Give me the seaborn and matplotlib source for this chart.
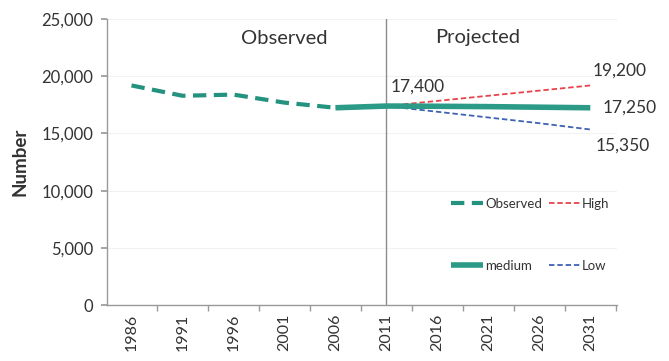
import matplotlib
matplotlib.use("Agg")
import matplotlib.pyplot as plt
import seaborn as sns
import pandas as pd
from matplotlib.ticker import FuncFormatter, FixedLocator

# Census years shown on the axis
years = [1986, 1991, 1996, 2001, 2006, 2011, 2016, 2021, 2026, 2031]

# Series values
observed_years = [1986, 1991, 1996, 2001, 2006]
observed_vals = [19200, 18300, 18400, 17700, 17250]

medium_years = [2006, 2011, 2016, 2021, 2026, 2031]
medium_vals = [17250, 17400, 17380, 17350, 17300, 17250]

proj_years = [2011, 2016, 2021, 2026, 2031]
high_vals = [17400, 17850, 18300, 18750, 19200]
low_vals = [17400, 16900, 16400, 15900, 15350]

sns.set_theme(style="white")
plt.rcParams["font.family"] = ["Lato", "DejaVu Sans"]

TEAL_OBS = "#23927f"
TEAL_MED = "#2b9a86"
RED = "#e8424a"
BLUE = "#3d63b3"
TXT = "#333333"

fig = plt.figure(figsize=(6.69, 3.61), dpi=100)
ax = fig.add_axes([0.160, 0.155, 0.762, 0.792])

obs_df = pd.DataFrame({"year": observed_years, "value": observed_vals})
med_df = pd.DataFrame({"year": medium_years, "value": medium_vals})
high_df = pd.DataFrame({"year": proj_years, "value": high_vals})
low_df = pd.DataFrame({"year": proj_years, "value": low_vals})

sns.lineplot(data=obs_df, x="year", y="value", ax=ax, color=TEAL_OBS,
             linewidth=3.0, linestyle=(0, (3.2, 1.8)), label="Observed",
             dash_capstyle="butt")
sns.lineplot(data=high_df, x="year", y="value", ax=ax, color=RED,
             linewidth=1.3, linestyle=(0, (3.0, 1.6)), label="High",
             dash_capstyle="butt")
sns.lineplot(data=low_df, x="year", y="value", ax=ax, color=BLUE,
             linewidth=1.3, linestyle=(0, (3.0, 1.6)), label="Low",
             dash_capstyle="butt")
sns.lineplot(data=med_df, x="year", y="value", ax=ax, color=TEAL_MED,
             linewidth=4.0, label="medium", solid_capstyle="butt")

# Divider between observed and projected periods
ax.axvline(2011, color="#8c8c8c", linewidth=1.0, ymin=0, ymax=1, zorder=1)

ax.set_xlim(1983.6, 2033.6)
ax.set_ylim(0, 25000)
ax.set_yticks([0, 5000, 10000, 15000, 20000, 25000])
ax.yaxis.set_major_formatter(FuncFormatter(lambda v, p: f"{int(v):,}"))
ax.set_xticks(years)
ax.set_xticklabels([str(y) for y in years], rotation=90)
ax.xaxis.set_minor_locator(FixedLocator([y - 2.5 for y in years] + [2033.5]))
ax.tick_params(axis="x", which="major", length=0, labelsize=11.5,
               labelcolor=TXT, pad=6)
ax.tick_params(axis="x", which="minor", length=4, color="#9a9a9a",
               direction="out", bottom=True)
ax.tick_params(axis="y", which="major", length=4, color="#9a9a9a",
               labelsize=12, labelcolor=TXT, pad=6, left=True)

ax.grid(axis="y", color="#f2f2f2", linewidth=0.8)
ax.set_axisbelow(True)
for side in ("top", "right"):
    ax.spines[side].set_visible(False)
for side in ("left", "bottom"):
    ax.spines[side].set_color("#9a9a9a")
    ax.spines[side].set_linewidth(1.0)

ax.set_xlabel("")
ax.set_ylabel("Number", fontsize=13.5, fontweight="bold", color=TXT, labelpad=9)

# Period headings
ax.text(2001, 23300, "Observed", ha="center", va="center", fontsize=14.5, color=TXT)
ax.text(2019.9, 23390, "Projected", ha="center", va="center", fontsize=14.5, color=TXT)

# Value labels
ax.annotate(f"{medium_vals[1]:,}", (2011, medium_vals[1]), xytext=(31, 19),
            textcoords="offset pixels", ha="center", va="center",
            fontsize=12.5, color=TXT)
ax.annotate(f"{high_vals[-1]:,}", (2031, high_vals[-1]), xytext=(29, 15),
            textcoords="offset pixels", ha="center", va="center",
            fontsize=12.5, color=TXT)
ax.annotate(f"{medium_vals[-1]:,}", (2031, medium_vals[-1]), xytext=(39, 0),
            textcoords="offset pixels", ha="center", va="center",
            fontsize=12.5, color=TXT)
ax.annotate(f"{low_vals[-1]:,}", (2031, low_vals[-1]), xytext=(32, -16),
            textcoords="offset pixels", ha="center", va="center",
            fontsize=12.5, color=TXT)

handles, labels = ax.get_legend_handles_labels()
order = [labels.index(n) for n in ["Observed", "medium", "High", "Low"]]
ax.legend([handles[i] for i in order], [labels[i] for i in order],
          ncol=2, loc="center", bbox_to_anchor=(0.793, 0.35),
          bbox_transform=fig.transFigure, frameon=False, fontsize=9.5,
          handlelength=2.4, handletextpad=0.15, columnspacing=0.5,
          labelspacing=3.8, labelcolor=TXT)

fig.savefig("out.png", dpi=100)
